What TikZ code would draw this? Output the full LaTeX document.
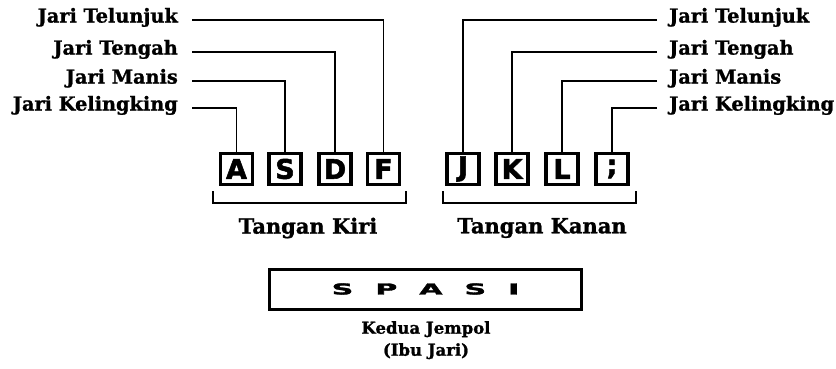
\documentclass[tikz,border=0pt]{standalone}
\usepackage{fontspec}
\setmainfont{DejaVu Serif}[BoldFeatures={FakeBold=1.2}]
\newfontfamily\keyfont{DejaVu Sans}[BoldFeatures={FakeBold=2}]
\begin{document}
\begin{tikzpicture}[x=1pt,y=-1pt,
  lbl/.style={font=\bfseries\fontsize{19.3}{21}\selectfont, inner sep=0pt},
  keybox/.style={draw, line width=3.6pt, minimum width=32pt, minimum height=31pt, inner sep=0pt,
     font=\keyfont\bfseries\fontsize{27}{28}\selectfont},
  conn/.style={line width=1.8pt},
  brk/.style={line width=1.8pt},
  captext/.style={font=\bfseries\fontsize{21}{23}\selectfont, inner sep=0pt}]
\useasboundingbox (0,0) rectangle (836,369);
% keys
\node[keybox] (kA) at (236.5,169) {A};
\node[keybox] (kS) at (285,169) {S};
\node[keybox] (kD) at (335,169) {D};
\node[keybox] (kF) at (383.5,169) {F};
\node[keybox] (kJ) at (463,169) {J};
\node[keybox] (kK) at (512,169) {K};
\node[keybox] (kL) at (562,169) {L};
\node[keybox] (kSemi) at (612,169) {;};
% left labels
\node[lbl, anchor=mid east] (lTel) at (178,20) {Jari Telunjuk};
\node[lbl, anchor=mid east] (lTen) at (178,52) {Jari Tengah};
\node[lbl, anchor=mid east] (lMan) at (178,81) {Jari Manis};
\node[lbl, anchor=mid east] (lKel) at (178,108) {Jari Kelingking};
% right labels
\node[lbl, anchor=mid west] (rTel) at (669,20) {Jari Telunjuk};
\node[lbl, anchor=mid west] (rTen) at (669,52) {Jari Tengah};
\node[lbl, anchor=mid west] (rMan) at (669,81) {Jari Manis};
\node[lbl, anchor=mid west] (rKel) at (669,108) {Jari Kelingking};
% connectors
\draw[conn] ([xshift=14pt]lTel.mid east) -| (kF.north);
\draw[conn] ([xshift=14pt]lTen.mid east) -| (kD.north);
\draw[conn] ([xshift=14pt]lMan.mid east) -| (kS.north);
\draw[conn] ([xshift=14pt]lKel.mid east) -| (kA.north);
\draw[conn] ([xshift=-12pt]rTel.mid west) -| (kJ.north);
\draw[conn] ([xshift=-12pt]rTen.mid west) -| (kK.north);
\draw[conn] ([xshift=-12pt]rMan.mid west) -| (kL.north);
\draw[conn] ([xshift=-12pt]rKel.mid west) -| (kSemi.north);
% brackets
\draw[brk] (213,191) -- (213,203) -- (406,203) -- (406,191);
\draw[brk] (443,191) -- (443,203) -- (636,203) -- (636,191);
\node[captext] (tKiri) at (308,228) {Tangan Kiri};
\node[captext] (tKanan) at (542,228) {Tangan Kanan};
% space bar
\node[draw, line width=3pt, minimum width=312pt, minimum height=40pt, inner sep=0pt] (spasi) at (425.5,289)
  {\keyfont\bfseries\fontsize{15}{15}\selectfont\scalebox{2}[1]{S\hspace{11pt}P\hspace{11pt}A\hspace{11pt}S\hspace{11pt}I}};
\node[align=center, inner sep=0pt, font=\bfseries\fontsize{16.5}{22}\selectfont, anchor=north] (kedua) at (426,321) {Kedua Jempol\\(Ibu Jari)};
\end{tikzpicture}
\end{document}
